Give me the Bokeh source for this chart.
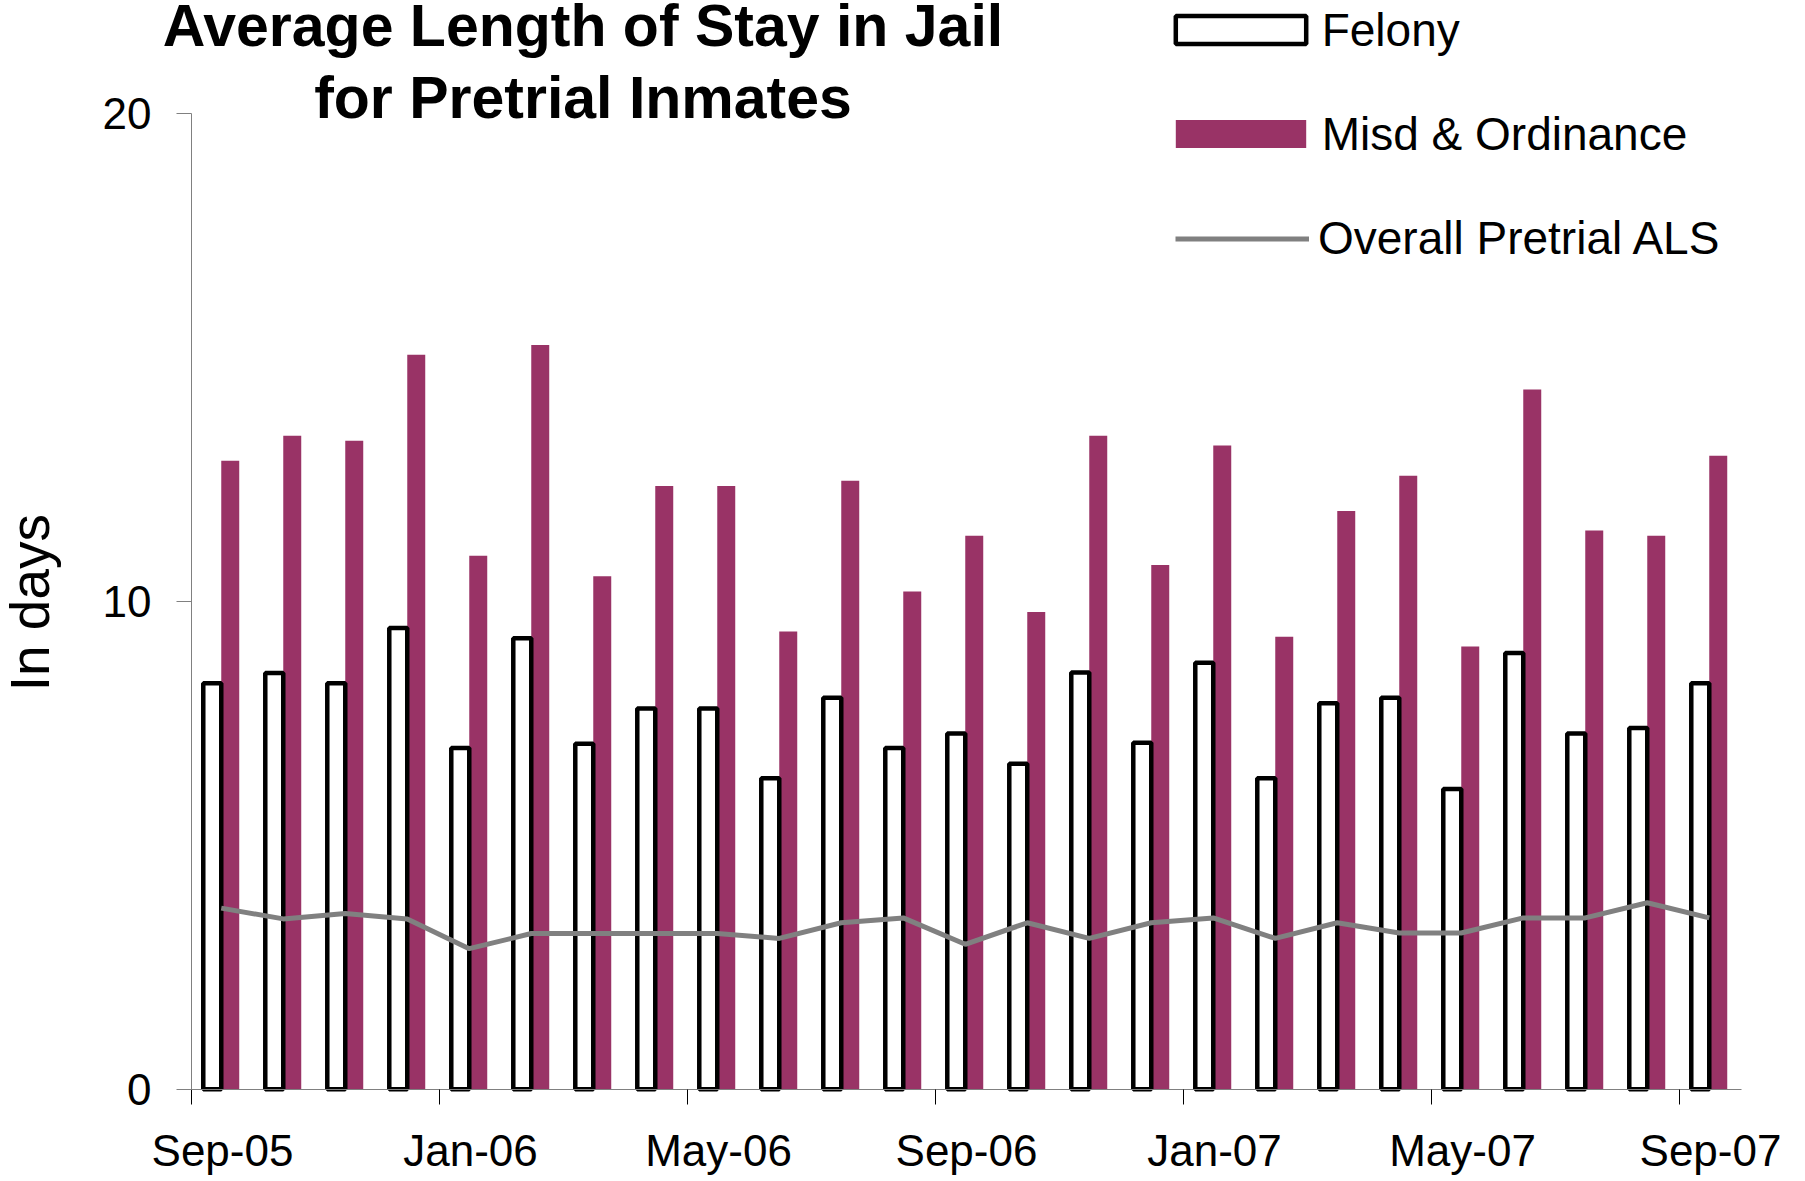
import math
from bokeh.plotting import figure
from bokeh.models import (Range1d, FixedTicker, Legend, LegendItem, Label,
                          ColumnDataSource)
from bokeh.transform import dodge
from bokeh.embed import file_html
from bokeh.resources import INLINE

months = ["Sep-05", "Oct-05", "Nov-05", "Dec-05", "Jan-06", "Feb-06", "Mar-06",
          "Apr-06", "May-06", "Jun-06", "Jul-06", "Aug-06", "Sep-06", "Oct-06",
          "Nov-06", "Dec-06", "Jan-07", "Feb-07", "Mar-07", "Apr-07", "May-07",
          "Jun-07", "Jul-07", "Aug-07", "Sep-07"]
felony = [8.32, 8.53, 8.32, 9.45, 6.99, 9.24, 7.08, 7.80, 7.80, 6.37, 8.02, 6.99,
          7.29, 6.67, 8.54, 7.10, 8.74, 6.37, 7.91, 8.02, 6.15, 8.94, 7.29, 7.40, 8.32]
misd = [12.88, 13.39, 13.29, 15.05, 10.93, 15.25, 10.51, 12.36, 12.36, 9.38, 12.47,
        10.20, 11.34, 9.78, 13.39, 10.74, 13.19, 9.27, 11.85, 12.57, 9.07, 14.34,
        11.45, 11.34, 12.98]
overall = [3.71, 3.49, 3.60, 3.49, 2.88, 3.19, 3.19, 3.19, 3.19, 3.09, 3.41, 3.51,
           2.97, 3.41, 3.09, 3.41, 3.51, 3.09, 3.41, 3.20, 3.20, 3.51, 3.51, 3.82, 3.51]
y_ticks = [0, 10, 20]
label_step = 4

FONT = "Liberation Sans"
MISD_COLOR = "#993366"

W, H = 1805, 1181
n = len(months)
idx = list(range(n))
src = ColumnDataSource(dict(x=idx, month=months, felony=felony, misd=misd, overall=overall))

# plot frame covers the whole canvas; axes are pinned inside it
slot_px = 62.0
left_px = 191.0
x0 = -0.5 - left_px / slot_px
x1 = x0 + W / slot_px
unit_px = 48.8
base_px = 1088.7
y0 = -(H - base_px) / unit_px
y1 = base_px / unit_px

p = figure(width=W, height=H, output_backend="svg", toolbar_location=None,
           x_range=Range1d(x0, x1), y_range=Range1d(y0, y1),
           min_border_left=0, min_border_right=0, min_border_top=0,
           min_border_bottom=0)
p.outline_line_color = None
p.grid.visible = False
p.background_fill_color = "white"

bw = 0.29
shift = -0.02
mis_r = p.vbar(x=dodge("x", shift + bw / 2, range=p.x_range), top="misd", width=bw,
               bottom=0, source=src, fill_color=MISD_COLOR, line_color=None)
fel_r = p.vbar(x=dodge("x", shift - bw / 2, range=p.x_range), top="felony", width=bw,
               bottom=0, source=src, fill_color="white", line_color="black",
               line_width=4.5)
line_r = p.line(x=dodge("x", shift, range=p.x_range), y="overall", source=src,
                line_color="#808080", line_width=5)

# y axis
ya = p.yaxis[0]
ya.fixed_location = -0.5
ya.ticker = FixedTicker(ticks=y_ticks, minor_ticks=[])
ya.bounds = (0, 20)
ya.axis_line_color = "#808080"
ya.major_tick_line_color = "#808080"
ya.major_tick_out = 15
ya.major_tick_in = 0
ya.minor_tick_line_color = None
ya.major_label_standoff = 25
ya.major_label_text_font = FONT
ya.major_label_text_font_size = "44px"
ya.major_label_text_color = "black"

# x axis: labels at month centres, tick marks between months
xa = p.xaxis[0]
xa.fixed_location = 0
label_pos = idx[::label_step]
xa.ticker = FixedTicker(ticks=label_pos, minor_ticks=[i - 0.5 for i in label_pos])
xa.major_label_overrides = {i: months[i] for i in label_pos}
xa.bounds = (-0.5, n - 0.5)
xa.axis_line_color = "#808080"
xa.major_tick_line_color = None
xa.major_tick_out = 0
xa.major_tick_in = 0
xa.minor_tick_line_color = "black"
xa.minor_tick_out = 15
xa.minor_tick_in = 0
xa.major_label_standoff = 22
xa.major_label_text_font = FONT
xa.major_label_text_font_size = "44px"
xa.major_label_text_color = "black"

# y axis title
p.add_layout(Label(x=29.5, y=9.97, x_units="screen", y_units="data", text="In days",
                   angle=math.pi / 2, text_align="center", text_baseline="middle",
                   text_font=FONT, text_font_size="55px", text_color="black"))

# chart title
for txt, base in [("Average Length of Stay in Jail", 25), ("for Pretrial Inmates", 97)]:
    p.add_layout(Label(x=582.5, y=H - base, x_units="screen", y_units="screen", text=txt,
                       text_align="center", text_baseline="alphabetic",
                       text_font=FONT, text_font_size="59px", text_font_style="bold",
                       text_color="black"))

leg1 = Legend(items=[LegendItem(label="Felony", renderers=[fel_r]),
                     LegendItem(label="Misd & Ordinance", renderers=[mis_r])],
              location=(1158.7, H - 160.5), glyph_width=163, glyph_height=35,
              label_height=35, spacing=50, padding=0, margin=0,
              label_standoff=0, border_line_color=None, background_fill_alpha=0,
              label_text_font=FONT, label_text_font_size="46px",
              label_text_color="black")
leg2 = Legend(items=[LegendItem(label="Overall Pretrial ALS", renderers=[line_r])],
              location=(1175, H - 265), glyph_width=134, glyph_height=35,
              label_height=35, spacing=0, padding=0, margin=0, label_standoff=9,
              border_line_color=None, background_fill_alpha=0,
              label_text_font=FONT, label_text_font_size="46px",
              label_text_color="black")
p.add_layout(leg1, "center")
p.add_layout(leg2, "center")

open("out.html", "w").write(file_html(p, INLINE))
